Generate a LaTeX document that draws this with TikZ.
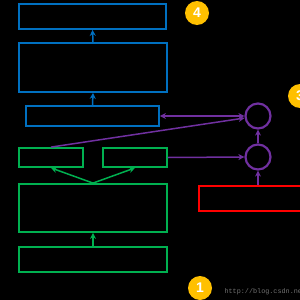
\documentclass[tikz,border=0pt]{standalone}
\usepackage{fontspec}
\setmainfont{Liberation Sans}
\newfontfamily\cjk{Noto Sans CJK SC}
\setmonofont{Liberation Mono}
\usepackage{tikz}
\usetikzlibrary{arrows.meta}
\definecolor{netblue}{RGB}{0,112,192}
\definecolor{netgreen}{RGB}{0,176,80}
\definecolor{netpurple}{RGB}{112,48,160}
\definecolor{netred}{RGB}{255,0,0}
\definecolor{badgeyellow}{RGB}{255,192,0}
\tikzset{
  layer/.style={draw=#1,line width=1.8pt,inner sep=0pt},
  unit/.style={circle,draw=netpurple,line width=2.2pt,minimum size=25pt,inner sep=0pt},
  badge/.style={circle,fill=badgeyellow,minimum size=24pt,inner sep=0pt,
    text=white,font=\bfseries\fontsize{14}{14}\selectfont},
  flow/.style={draw=#1,line width=1.5pt,-{Stealth[length=6pt,width=6pt]}}
}
\begin{document}
\begin{tikzpicture}[x=1pt,y=-1pt]
\useasboundingbox (0,0) rectangle (300,300);
% background:
\path[fill=black] (0,0) rectangle (300,300);
% blue layers:
\node[layer=netblue,minimum width=147pt,minimum height=25pt] (top) at (92.5,16.5) {};
\node[layer=netblue,minimum width=148pt,minimum height=49pt] (mid) at (93,67.5) {};
\node[layer=netblue,minimum width=133pt,minimum height=20pt] (low) at (92.5,116) {};
% green layers:
\node[layer=netgreen,minimum width=64pt,minimum height=19pt] (gl) at (51,157.5) {};
\node[layer=netgreen,minimum width=64pt,minimum height=19pt] (gr) at (135,157.5) {};
\node[layer=netgreen,minimum width=148pt,minimum height=48pt] (gbig) at (93,208) {};
\node[layer=netgreen,minimum width=148pt,minimum height=25pt] (gbot) at (93,259.5) {};
% purple units and red box:
\node[unit] (cup) at (258,116) {};
\node[unit] (clow) at (258,157) {};
\node[layer=netred,minimum width=118pt,minimum height=25pt,text=black,
  font=\cjk\fontsize{10}{10}\selectfont] (pre) at (258,198.5) {从预训练好的模型};
% connectors:
\draw[flow=netblue] (mid.north) -- (top.south);
\draw[flow=netblue] (low.north) -- (mid.south);
\draw[flow=netgreen] (gbot.north) -- (gbig.south);
\draw[flow=netgreen] (gbig.north) -- (gl.south);
\draw[flow=netgreen] (gbig.north) -- (gr.south);
\draw[flow=netpurple,{Stealth[length=6pt,width=6pt]}-{Stealth[length=6pt,width=6pt]}] (low.east) -- (cup.west);
\draw[flow=netpurple] (gl.north) -- (cup);
\draw[flow=netpurple] (gr.east) -- (clow.west);
\draw[flow=netpurple] (clow.north) -- (cup.south);
\draw[flow=netpurple] (pre.north) -- (clow.south);
% badges:
\node[badge] (b4) at (197,13) {4};
\node[badge] (b3) at (300,96) {3};
\node[badge] (b1) at (200,288) {1};
\node[anchor=west,text=black!55,font=\ttfamily\fontsize{6.8}{6.8}\selectfont] (url) at (221,292) {http://blog.csdn.net};
\end{tikzpicture}
\end{document}
